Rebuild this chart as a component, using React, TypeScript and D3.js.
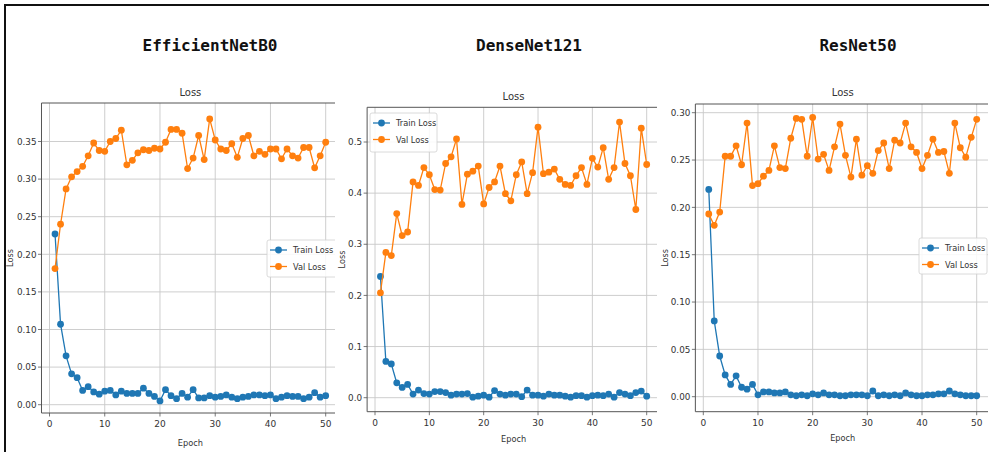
import React from "react";
import * as d3 from "d3";

const epochs = d3.range(1, 51);

const effTrain = [0.227,0.107,0.065,0.041,0.036,0.019,0.024,0.017,0.014,0.018,0.019,0.013,0.018,0.015,0.015,0.015,0.022,0.015,0.011,0.005,0.020,0.012,0.008,0.015,0.010,0.020,0.009,0.009,0.012,0.010,0.011,0.013,0.010,0.008,0.010,0.011,0.013,0.013,0.012,0.013,0.008,0.010,0.012,0.011,0.011,0.008,0.010,0.016,0.010,0.012];
const effVal = [0.181,0.240,0.287,0.303,0.310,0.317,0.331,0.348,0.338,0.337,0.350,0.354,0.365,0.319,0.325,0.335,0.339,0.338,0.341,0.340,0.349,0.366,0.366,0.361,0.314,0.328,0.358,0.326,0.380,0.352,0.340,0.338,0.347,0.329,0.354,0.358,0.331,0.337,0.333,0.340,0.340,0.327,0.340,0.331,0.328,0.342,0.342,0.315,0.331,0.349];

const denseTrain = [0.237,0.071,0.066,0.029,0.020,0.026,0.007,0.015,0.008,0.007,0.012,0.012,0.010,0.005,0.007,0.007,0.008,0.001,0.003,0.005,0.001,0.014,0.007,0.005,0.007,0.007,0.002,0.015,0.005,0.005,0.003,0.007,0.005,0.005,0.003,0.001,0.004,0.004,0.001,0.004,0.005,0.004,0.007,0.001,0.010,0.007,0.004,0.010,0.013,0.003];
const denseVal = [0.205,0.284,0.278,0.360,0.317,0.324,0.422,0.415,0.450,0.436,0.407,0.406,0.458,0.471,0.506,0.378,0.437,0.443,0.453,0.379,0.411,0.422,0.453,0.399,0.385,0.436,0.461,0.399,0.440,0.529,0.438,0.441,0.447,0.427,0.417,0.415,0.434,0.450,0.417,0.468,0.451,0.489,0.427,0.450,0.539,0.458,0.434,0.368,0.527,0.456];

const resTrain = [0.219,0.080,0.043,0.023,0.013,0.022,0.010,0.008,0.013,0.002,0.005,0.005,0.004,0.004,0.005,0.002,0.001,0.002,0.001,0.003,0.002,0.004,0.002,0.002,0.001,0.001,0.002,0.002,0.002,0.001,0.006,0.001,0.002,0.001,0.002,0.001,0.004,0.002,0.001,0.001,0.002,0.002,0.003,0.003,0.006,0.003,0.002,0.001,0.001,0.001];
const resVal = [0.193,0.181,0.195,0.254,0.254,0.265,0.245,0.289,0.223,0.225,0.233,0.239,0.265,0.242,0.241,0.273,0.294,0.293,0.254,0.295,0.251,0.256,0.239,0.264,0.288,0.255,0.232,0.272,0.234,0.244,0.236,0.260,0.268,0.241,0.271,0.268,0.289,0.264,0.258,0.241,0.255,0.272,0.258,0.259,0.236,0.289,0.263,0.253,0.274,0.293];

const xTicks = [0, 10, 20, 30, 40, 50];
const effYTicks = [0, 0.05, 0.1, 0.15, 0.2, 0.25, 0.3, 0.35];
const denseYTicks = [0, 0.1, 0.2, 0.3, 0.4, 0.5];
const resYTicks = [0, 0.05, 0.1, 0.15, 0.2, 0.25, 0.3];

const modelNames = ["EfficientNetB0", "DenseNet121", "ResNet50"];
const seriesNames = ["Train Loss", "Val Loss"];
const chartTitle = "Loss";
const xLabel = "Epoch";
const yLabel = "Loss";

const BLUE = "#1f77b4";
const ORANGE = "#ff7f0e";

type PanelCfg = {
  id: string;
  train: number[];
  val: number[];
  yTicks: number[];
  fmt: string;
  x0: number; x50: number;
  yTop: number; yBot: number;
  yTopVal: number;
  spineTop: number; spineBot: number;
  clipL: number; clipR: number;
  titleY: number; xLabelY: number; yLabelX: number;
  legend: { x: number; y: number; w: number; h: number };
};

const panels: PanelCfg[] = [
  {
    id: "p1", train: effTrain, val: effVal, yTicks: effYTicks, fmt: ".2f",
    x0: 49.5, x50: 325.7, yBot: 404.7, yTop: 141.5, yTopVal: 0.35,
    spineTop: 103, spineBot: 413, clipL: 0, clipR: 335,
    titleY: 92.5, xLabelY: 442.5, yLabelX: 10,
    legend: { x: 267, y: 240, w: 75, h: 37 },
  },
  {
    id: "p2", train: denseTrain, val: denseVal, yTicks: denseYTicks, fmt: ".1f",
    x0: 375, x50: 646.7, yBot: 397.7, yTop: 142, yTopVal: 0.5,
    spineTop: 107.3, spineBot: 411.7, clipL: 337, clipR: 657,
    titleY: 96.5, xLabelY: 439, yLabelX: 342,
    legend: { x: 370, y: 113, w: 67, h: 39 },
  },
  {
    id: "p3", train: resTrain, val: resVal, yTicks: resYTicks, fmt: ".2f",
    x0: 703.3, x50: 976.7, yBot: 396.7, yTop: 112.7, yTopVal: 0.3,
    spineTop: 104, spineBot: 411.7, clipL: 659, clipR: 988,
    titleY: 92.5, xLabelY: 438, yLabelX: 665,
    legend: { x: 919, y: 238, w: 68, h: 36 },
  },
];

const Panel: React.FC<{ c: PanelCfg }> = ({ c }) => {
  const x = d3.scaleLinear().domain([0, 50]).range([c.x0, c.x50]);
  const y = d3.scaleLinear().domain([0, c.yTopVal]).range([c.yBot, c.yTop]);
  const left = x(-1.45);
  const right = x(52.45);
  const fmt = d3.format(c.fmt);
  const line = d3.line<number>().x((_, i) => x(epochs[i])).y((d) => y(d));
  const midX = (left + right) / 2;
  const midY = (c.spineTop + c.spineBot) / 2;
  const font = "DejaVu Sans, sans-serif";
  const lg = c.legend;
  const R = 3.4;
  return (
    <g>
      <defs>
        <clipPath id={`clip-${c.id}`}>
          <rect x={c.clipL} y={0} width={c.clipR - c.clipL} height={452} />
        </clipPath>
      </defs>
      <g clipPath={`url(#clip-${c.id})`}>
        {xTicks.map((t) => (
          <line key={`gx${t}`} x1={x(t)} x2={x(t)} y1={c.spineTop} y2={c.spineBot} stroke="#c8c8c8" strokeWidth={0.9} />
        ))}
        {c.yTicks.map((t) => (
          <line key={`gy${t}`} x1={left} x2={right} y1={y(t)} y2={y(t)} stroke="#c8c8c8" strokeWidth={0.9} />
        ))}
        <line x1={left} x2={right} y1={c.spineTop} y2={c.spineTop} stroke="#555" strokeWidth={1} />
        <line x1={left} x2={right} y1={c.spineBot} y2={c.spineBot} stroke="#555" strokeWidth={1} />
        <line x1={left} x2={left} y1={c.spineTop} y2={c.spineBot} stroke="#555" strokeWidth={1} />
        <line x1={right} x2={right} y1={c.spineTop} y2={c.spineBot} stroke="#555" strokeWidth={1} />
        {xTicks.map((t) => (
          <g key={`tx${t}`}>
            <line x1={x(t)} x2={x(t)} y1={c.spineBot} y2={c.spineBot + 3.5} stroke="#555" strokeWidth={0.8} />
            <text x={x(t)} y={c.spineBot + 14} textAnchor="middle" fontFamily={font} fontSize={9} fill="#333">{t}</text>
          </g>
        ))}
        {c.yTicks.map((t) => (
          <g key={`ty${t}`}>
            <line x1={left - 3.5} x2={left} y1={y(t)} y2={y(t)} stroke="#555" strokeWidth={0.8} />
            <text x={left - 5} y={y(t) + 3.2} textAnchor="end" fontFamily={font} fontSize={8.8} fill="#333">{fmt(t)}</text>
          </g>
        ))}
        <path d={line(c.train) || ""} fill="none" stroke={BLUE} strokeWidth={1.3} />
        {c.train.map((v, i) => (
          <circle key={`tr${i}`} cx={x(epochs[i])} cy={y(v)} r={R} fill={BLUE} />
        ))}
        <path d={line(c.val) || ""} fill="none" stroke={ORANGE} strokeWidth={1.3} />
        {c.val.map((v, i) => (
          <circle key={`va${i}`} cx={x(epochs[i])} cy={y(v)} r={R} fill={ORANGE} />
        ))}
        <rect x={lg.x} y={lg.y} width={lg.w} height={lg.h} rx={2} fill="white" fillOpacity={0.85} stroke="#d0d0d0" strokeWidth={0.8} />
        {seriesNames.map((s, i) => {
          const ly = lg.y + 10 + i * 16.5;
          const col = i === 0 ? BLUE : ORANGE;
          return (
            <g key={s}>
              <line x1={lg.x + 3} x2={lg.x + 20} y1={ly} y2={ly} stroke={col} strokeWidth={1.3} />
              <circle cx={lg.x + 11.5} cy={ly} r={R} fill={col} />
              <text x={lg.x + 26} y={ly + 3} fontFamily={font} fontSize={8.2} fill="#333">{s}</text>
            </g>
          );
        })}
        <text x={midX} y={c.titleY + 3.5} textAnchor="middle" fontFamily={font} fontSize={10} fill="#333">{chartTitle}</text>
        <text x={midX} y={c.xLabelY + 3} textAnchor="middle" fontFamily={font} fontSize={8.2} fill="#333">{xLabel}</text>
        <text transform={`translate(${c.yLabelX + 3},${midY}) rotate(-90)`} textAnchor="middle" fontFamily={font} fontSize={8.2} fill="#333">{yLabel}</text>
      </g>
    </g>
  );
};

const titleX = [210, 529, 858];

export default function App() {
  return (
    <svg width={989} height={452} style={{ position: "absolute", left: 0, top: 0, background: "white" }}>
      <rect x={0} y={0} width={989} height={452} fill="white" />
      <line x1={5} x2={989} y1={5} y2={5} stroke="#111" strokeWidth={2} />
      <line x1={5} x2={5} y1={4} y2={452} stroke="#111" strokeWidth={2} />
      {modelNames.map((m, i) => (
        <text key={m} x={titleX[i]} y={51} textAnchor="middle" fontFamily="DejaVu Sans Mono, monospace" fontWeight="bold" fontSize={16} fill="#111">{m}</text>
      ))}
      {panels.map((p) => (
        <Panel key={p.id} c={p} />
      ))}
    </svg>
  );
}
